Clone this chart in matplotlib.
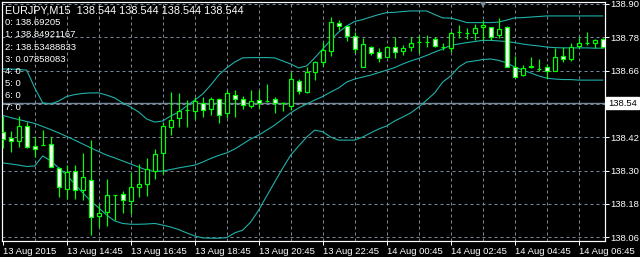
import matplotlib
matplotlib.use("Agg")
import matplotlib.pyplot as plt
from matplotlib import font_manager
import numpy as np

_names = {f.name for f in font_manager.fontManager.ttflist}
FONT = 'Liberation Sans Narrow' if 'Liberation Sans Narrow' in _names else 'Liberation Sans'

# ---------------- data ----------------
symbol = "EURJPY,M15"
header_prices = [138.544, 138.544, 138.544, 138.544]
buffer_lines = ["0: 138.69205", "1: 138.84921167", "2: 138.53488833", "3: 0.07858083",
                "4: 0", "5: 0", "6: 0", "7: 0"]

opens = [138.440, 138.417, 138.408, 138.461, 138.389, 138.392, 138.396, 138.309, 138.234, 138.299,
         138.230, 138.266, 138.138, 138.150, 138.212, 138.215, 138.191, 138.240, 138.252, 138.300,
         138.362, 138.458, 138.489, 138.518, 138.515, 138.545, 138.521, 138.558, 138.506, 138.573,
         138.559, 138.534, 138.553, 138.551, 138.557, 138.542, 138.534, 138.623, 138.582, 138.656,
         138.692, 138.732, 138.831, 138.821, 138.785, 138.674, 138.746, 138.728, 138.710, 138.746,
         138.731, 138.746, 138.762, 138.764, 138.773, 138.746, 138.741, 138.800, 138.795, 138.795,
         138.818, 138.818, 138.788, 138.818, 138.674, 138.644, 138.672, 138.665, 138.674, 138.660,
         138.713, 138.701, 138.749, 138.758, 138.758, 138.773]
highs = [138.498, 138.443, 138.497, 138.476, 138.422, 138.446, 138.422, 138.312, 138.320, 138.320,
         138.365, 138.410, 138.179, 138.269, 138.212, 138.227, 138.296, 138.324, 138.345, 138.378,
         138.476, 138.584, 138.578, 138.554, 138.566, 138.566, 138.566, 138.563, 138.590, 138.590,
         138.569, 138.590, 138.590, 138.612, 138.566, 138.547, 138.656, 138.630, 138.674, 138.696,
         138.764, 138.854, 138.842, 138.821, 138.800, 138.777, 138.750, 138.741, 138.750, 138.780,
         138.752, 138.780, 138.788, 138.788, 138.782, 138.758, 138.804, 138.824, 138.812, 138.828,
         138.841, 138.818, 138.849, 138.821, 138.713, 138.680, 138.708, 138.701, 138.683, 138.741,
         138.744, 138.761, 138.780, 138.800, 138.773, 138.776]
lows = [138.381, 138.368, 138.386, 138.381, 138.350, 138.392, 138.312, 138.204, 138.198, 138.198,
        138.194, 138.068, 138.096, 138.102, 138.122, 138.147, 138.143, 138.206, 138.209, 138.269,
        138.288, 138.428, 138.458, 138.458, 138.486, 138.494, 138.500, 138.471, 138.489, 138.492,
        138.521, 138.524, 138.524, 138.547, 138.507, 138.515, 138.518, 138.576, 138.578, 138.626,
        138.677, 138.714, 138.806, 138.768, 138.723, 138.674, 138.716, 138.692, 138.708, 138.705,
        138.716, 138.732, 138.723, 138.746, 138.746, 138.734, 138.728, 138.776, 138.773, 138.770,
        138.770, 138.770, 138.777, 138.674, 138.638, 138.641, 138.669, 138.660, 138.633, 138.660,
        138.692, 138.696, 138.741, 138.752, 138.741, 138.743]
closes = [138.414, 138.407, 138.461, 138.384, 138.379, 138.392, 138.312, 138.242, 138.296, 138.230,
          138.276, 138.134, 138.146, 138.211, 138.212, 138.193, 138.240, 138.251, 138.305, 138.360,
          138.461, 138.482, 138.515, 138.519, 138.551, 138.518, 138.558, 138.500, 138.578, 138.558,
          138.536, 138.551, 138.545, 138.550, 138.542, 138.542, 138.629, 138.587, 138.656, 138.691,
          138.734, 138.834, 138.822, 138.785, 138.737, 138.756, 138.723, 138.705, 138.746, 138.726,
          138.741, 138.758, 138.762, 138.764, 138.749, 138.746, 138.794, 138.800, 138.795, 138.814,
          138.826, 138.780, 138.809, 138.674, 138.638, 138.671, 138.676, 138.665, 138.659, 138.708,
          138.703, 138.744, 138.761, 138.759, 138.770, 138.744]

bb_upper = [138.666, 138.666, 138.664, 138.662, 138.598, 138.544, 138.540, 138.551, 138.567, 138.574,
            138.578, 138.580, 138.580, 138.572, 138.562, 138.544, 138.529, 138.511, 138.486, 138.475,
            138.479, 138.497, 138.511, 138.533, 138.554, 138.576, 138.608, 138.644, 138.670, 138.691,
            138.706, 138.707, 138.707, 138.707, 138.706, 138.695, 138.684, 138.670, 138.677, 138.706,
            138.738, 138.770, 138.799, 138.821, 138.837, 138.844, 138.853, 138.862, 138.869, 138.870,
            138.873, 138.875, 138.875, 138.875, 138.862, 138.850, 138.849, 138.842, 138.833, 138.833,
            138.833, 138.833, 138.835, 138.842, 138.850, 138.851, 138.853, 138.855, 138.857, 138.857,
            138.857, 138.857, 138.857, 138.857, 138.857, 138.857]
bb_middle = [138.499, 138.491, 138.484, 138.477, 138.470, 138.459, 138.448, 138.436, 138.423, 138.410,
             138.396, 138.382, 138.369, 138.356, 138.346, 138.335, 138.324, 138.313, 138.302, 138.297,
             138.299, 138.304, 138.310, 138.315, 138.320, 138.331, 138.344, 138.355, 138.364, 138.378,
             138.396, 138.414, 138.428, 138.446, 138.464, 138.486, 138.508, 138.526, 138.540, 138.554,
             138.567, 138.583, 138.598, 138.619, 138.630, 138.637, 138.644, 138.653, 138.662, 138.671,
             138.684, 138.695, 138.704, 138.715, 138.727, 138.738, 138.751, 138.756, 138.761, 138.765,
             138.769, 138.769, 138.767, 138.765, 138.761, 138.756, 138.752, 138.749, 138.745, 138.743,
             138.742, 138.742, 138.742, 138.742, 138.741, 138.741]
bb_lower = [138.328, 138.324, 138.320, 138.315, 138.317, 138.353, 138.335, 138.310, 138.284, 138.252,
            138.220, 138.191, 138.166, 138.140, 138.119, 138.110, 138.107, 138.107, 138.108, 138.110,
            138.104, 138.097, 138.088, 138.076, 138.065, 138.058, 138.057, 138.057, 138.059, 138.076,
            138.086, 138.115, 138.158, 138.209, 138.259, 138.309, 138.356, 138.389, 138.421, 138.446,
            138.440, 138.421, 138.410, 138.410, 138.410, 138.421, 138.436, 138.450, 138.461, 138.479,
            138.493, 138.508, 138.529, 138.554, 138.580, 138.619, 138.641, 138.673, 138.691, 138.695,
            138.700, 138.702, 138.697, 138.688, 138.673, 138.662, 138.652, 138.641, 138.633, 138.630,
            138.628, 138.628, 138.626, 138.626, 138.626, 138.626]

price_ticks = [138.06, 138.18, 138.30, 138.42, 138.54, 138.66, 138.78, 138.90]
time_labels = ["13 Aug 2015", "13 Aug 14:45", "13 Aug 16:45", "13 Aug 18:45", "13 Aug 20:45",
               "13 Aug 22:45", "14 Aug 00:45", "14 Aug 02:45", "14 Aug 04:45", "14 Aug 06:45"]
time_label_bars = [0, 8, 16, 24, 32, 40, 48, 56, 64, 72]
grid_bars = list(range(4, 76, 4))
bid_price = 138.544
shift_marker_bar = 60

# ---------------- styles ----------------
W, H = 640, 257
BG = 'black'
CANDLE = '#00FF00'
BAND = '#20B2AA'
GRID = '#778899'
FG = 'white'
PX = 72.0 / 100.0  # one pixel in points
FS_AXIS = 6.8
FS_INFO = 6.8

fig = plt.figure(figsize=(W / 100, H / 100), dpi=100, facecolor=BG)
ax = fig.add_axes([2 / W, 16 / H, 603 / W, 239 / H], facecolor=BG)

x = np.arange(len(opens))
o = np.array(opens); c = np.array(closes)
hi = np.array(highs); lo = np.array(lows)

YMIN, YMAX = 138.0468, 138.9072
ax.set_xlim(-0.09, 75.29)
ax.set_ylim(YMIN, YMAX)

# grid
for p in price_ticks:
    ax.axhline(p, color=GRID, lw=PX, ls=(0, (3, 3)), zorder=1)
for b in grid_bars:
    ax.axvline(b, color=GRID, lw=PX, ls=(0, (3, 3)), zorder=1)

# bid line
ax.axhline(bid_price, color=GRID, lw=PX * 1.4, zorder=1.5)

# bands
for band in (bb_upper, bb_middle, bb_lower):
    ax.plot(x, band, color=BAND, lw=PX * 1.1, zorder=2)

# candles
ax.vlines(x, lo, hi, color=CANDLE, lw=PX * 1.2, zorder=3)
bottoms = np.minimum(o, c)
heights = np.abs(c - o)
faces = [FG if cc < oo else BG for oo, cc in zip(o, c)]
ax.bar(x, heights, bottom=bottoms, width=0.5, color=faces, edgecolor=CANDLE,
       linewidth=PX * 1.2, zorder=4)

# frame
for s in ax.spines.values():
    s.set_color(FG)
    s.set_linewidth(PX * 1.2)

# y axis on right
ax.yaxis.tick_right()
ax.set_yticks(price_ticks)
ax.set_yticklabels(["" if abs(p - bid_price) < 0.01 else f"{p:.2f}" for p in price_ticks])
ax.tick_params(axis='y', colors=FG, length=3 * PX * 1.3, width=PX, pad=1.0,
               labelsize=FS_AXIS, labelcolor=FG)
for t in ax.get_yticklabels():
    t.set_fontfamily(FONT)

# x axis
ax.set_xticks(time_label_bars)
ax.set_xticklabels(time_labels, ha='left')
ax.tick_params(axis='x', colors=FG, length=3 * PX * 1.3, width=PX, pad=1.5,
               labelsize=FS_AXIS, labelcolor=FG)
for t in ax.get_xticklabels():
    t.set_fontfamily(FONT)

# shift marker at top
ax.plot([shift_marker_bar], [YMAX - 0.009], marker='v', color=GRID, markersize=5,
        clip_on=False, zorder=6, markeredgewidth=0)

# bid box label
fig.text(608 / W, 1 - 103.0 / H, f"{bid_price:.2f}", color='black', fontsize=FS_AXIS,
         family=FONT, va='center', ha='left',
         bbox=dict(boxstyle='square,pad=0.2', fc='white', ec='white'))

# header and indicator buffers
header = symbol + "  " + " ".join(f"{p:.3f}" for p in header_prices)
fig.text(5 / W, 1 - 10.7 / H, header, color=FG, fontsize=7.8, family=FONT,
         va='center', ha='left')
for k, line in enumerate(buffer_lines):
    fig.text(5 / W, 1 - (22.8 + 12.1 * k) / H, line, color=FG, fontsize=FS_INFO,
             family=FONT, va='center', ha='left')

fig.savefig('out.png', dpi=100, facecolor=BG)
